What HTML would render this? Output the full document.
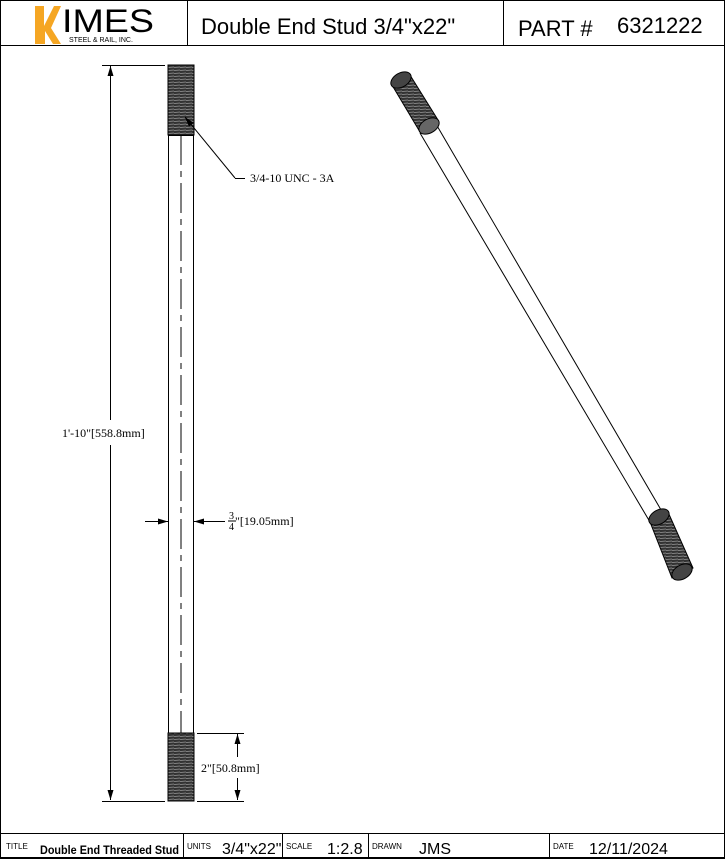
<!DOCTYPE html>
<html><head><style>
body{margin:0;background:#fff;}
svg{display:block;font-family:"Liberation Sans",sans-serif;}
.s{font-family:"Liberation Serif",serif;}
</style></head><body>
<svg width="726" height="860" viewBox="0 0 726 860" xmlns="http://www.w3.org/2000/svg">
<defs>
<pattern id="th" width="6" height="3" patternUnits="userSpaceOnUse"><rect width="6" height="3" fill="#333"/><path d="M0 1.5 L6 1" stroke="#999" stroke-width="0.7"/></pattern>
<marker id="ar" markerWidth="10" markerHeight="6" refX="10" refY="3" orient="auto" markerUnits="userSpaceOnUse"><path d="M0 0 L10 3 L0 6z" fill="#000"/></marker>
</defs>
<g stroke="#000" fill="none" stroke-width="1">
<rect x="0.5" y="0.5" width="724" height="858"/>
<line x1="0" y1="45.5" x2="725" y2="45.5"/>
<line x1="187.5" y1="0" x2="187.5" y2="45"/>
<line x1="503.5" y1="0" x2="503.5" y2="45"/>
<line x1="0" y1="833.5" x2="725" y2="833.5"/>
<line x1="0" y1="857.5" x2="725" y2="857.5"/>
<line x1="183.5" y1="833" x2="183.5" y2="858"/>
<line x1="282.5" y1="833" x2="282.5" y2="858"/>
<line x1="368.5" y1="833" x2="368.5" y2="858"/>
<line x1="549.5" y1="833" x2="549.5" y2="858"/>
</g>
<path d="M35 6 h9 v20 l10 -20 h7 l-10 22 l10 16 h-8 l-8 -13 v13 h-10z" fill="#f5a623"/>
<text x="62" y="32" font-size="32" fill="#000" textLength="92" lengthAdjust="spacingAndGlyphs">IMES</text>
<text x="69" y="42" font-size="7" fill="#000">STEEL &amp; RAIL, INC.</text>
<text x="201" y="34" font-size="22">Double End Stud 3/4"x22"</text>
<text x="518" y="36" font-size="22">PART #</text>
<text x="617" y="33" font-size="22">6321222</text>
<text x="6" y="849" font-size="8">TITLE</text>
<text x="40" y="854" font-size="12" font-weight="bold" textLength="139" lengthAdjust="spacingAndGlyphs">Double End Threaded Stud</text>
<text x="187" y="849" font-size="8">UNITS</text>
<text x="222" y="854" font-size="16">3/4"x22"</text>
<text x="286" y="849" font-size="8">SCALE</text>
<text x="327" y="854" font-size="16">1:2.8</text>
<text x="372" y="849" font-size="8">DRAWN</text>
<text x="419" y="854" font-size="16">JMS</text>
<text x="553" y="849" font-size="8">DATE</text>
<text x="589" y="854" font-size="16">12/11/2024</text>
<g stroke="#000" stroke-width="1">
<rect x="168.5" y="135.5" width="25" height="598" fill="#fff"/>
<rect x="168" y="65" width="26" height="70" fill="url(#th)"/>
<rect x="168" y="733" width="26" height="68" fill="url(#th)"/>
<line x1="181" y1="135" x2="181" y2="733" stroke-dasharray="30,6,6,6"/>
<line x1="102" y1="65.5" x2="165" y2="65.5"/>
<line x1="102" y1="801.5" x2="165" y2="801.5"/>
<line x1="110.5" y1="420" x2="110.5" y2="66" marker-end="url(#ar)"/>
<line x1="110.5" y1="445" x2="110.5" y2="800" marker-end="url(#ar)"/>
<line x1="197" y1="733.5" x2="244" y2="733.5"/>
<line x1="197" y1="801.5" x2="244" y2="801.5"/>
<line x1="237.5" y1="757" x2="237.5" y2="734" marker-end="url(#ar)"/>
<line x1="237.5" y1="778" x2="237.5" y2="800" marker-end="url(#ar)"/>
<line x1="145" y1="521.5" x2="168" y2="521.5" marker-end="url(#ar)"/>
<line x1="225" y1="521.5" x2="194" y2="521.5" marker-end="url(#ar)"/>
<line x1="235" y1="178" x2="185" y2="117" marker-end="url(#ar)"/>
<line x1="235" y1="178.5" x2="245" y2="178.5"/>
</g>
<text class="s" x="250" y="182" font-size="12">3/4-10 UNC - 3A</text>
<text class="s" x="62" y="437" font-size="12">1'-10"[558.8mm]</text>
<text class="s" x="201" y="772" font-size="12">2"[50.8mm]</text>
<text class="s" x="229" y="519" font-size="10">3</text>
<line x1="228" y1="521" x2="236" y2="521" stroke="#000"/>
<text class="s" x="229" y="530" font-size="10">4</text>
<text class="s" x="235" y="525" font-size="12">"[19.05mm]</text>
<g stroke="#000" stroke-width="1">
<line x1="420" y1="133" x2="650" y2="522"/>
<line x1="436" y1="124" x2="664" y2="515"/>
<path d="M392 85 L410 75 L438 120 L420 132z" fill="url(#th)"/>
<ellipse cx="401" cy="80" rx="11" ry="7" transform="rotate(-30 401 80)" fill="#444"/>
<ellipse cx="429" cy="126" rx="11" ry="7" transform="rotate(-30 429 126)" fill="#666"/>
<path d="M650 522 L668 512 L693 568 L672 578z" fill="url(#th)"/>
<ellipse cx="659" cy="517" rx="11" ry="7" transform="rotate(-30 659 517)" fill="#444"/>
<ellipse cx="682" cy="572" rx="11" ry="7" transform="rotate(-30 682 572)" fill="#444"/>
</g>
</svg>
</body></html>
